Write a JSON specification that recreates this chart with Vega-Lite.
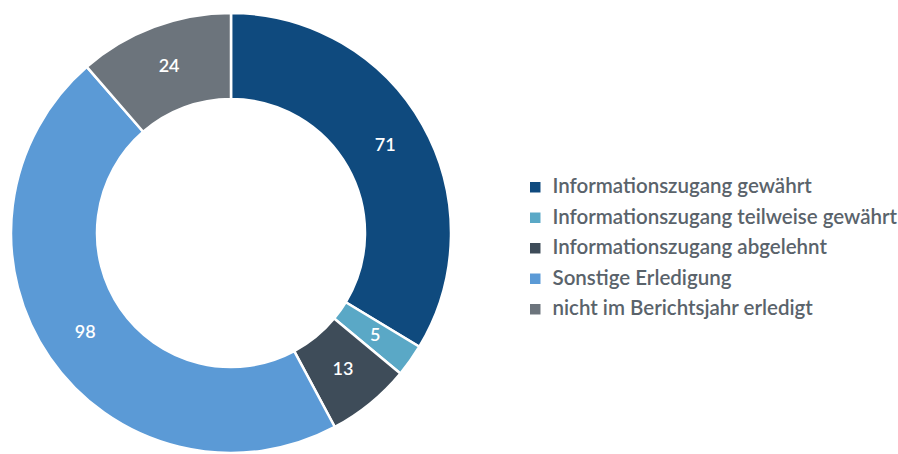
{
  "$schema": "https://vega.github.io/schema/vega-lite/v6.json",
  "width": 462,
  "height": 446,
  "padding": {"left": 0, "top": 8, "right": 0, "bottom": 0},
  "autosize": {"type": "pad"},
  "background": "white",
  "config": {"view": {"stroke": null}},
  "data": {
    "values": [
      {"kategorie": "Informationszugang gewährt", "anzahl": 71, "reihe": 1},
      {"kategorie": "Informationszugang teilweise gewährt", "anzahl": 5, "reihe": 2},
      {"kategorie": "Informationszugang abgelehnt", "anzahl": 13, "reihe": 3},
      {"kategorie": "Sonstige Erledigung", "anzahl": 98, "reihe": 4},
      {"kategorie": "nicht im Berichtsjahr erledigt", "anzahl": 24, "reihe": 5}
    ]
  },
  "encoding": {
    "theta": {"field": "anzahl", "type": "quantitative", "stack": true},
    "order": {"field": "reihe", "type": "quantitative"}
  },
  "layer": [
    {
      "mark": {"type": "arc", "outerRadius": 220, "innerRadius": 134, "stroke": "white", "strokeWidth": 2.5},
      "encoding": {
        "color": {
          "field": "kategorie",
          "type": "nominal",
          "scale": {
            "domain": ["Informationszugang gewährt", "Informationszugang teilweise gewährt", "Informationszugang abgelehnt", "Sonstige Erledigung", "nicht im Berichtsjahr erledigt"],
            "range": ["#0f4a7e", "#5aa8c6", "#3e4c59", "#5b9ad6", "#6c747c"]
          },
          "legend": {
            "title": null,
            "orient": "none",
            "legendX": 525,
            "legendY": 167,
            "symbolType": "square",
            "symbolSize": 110,
            "symbolStrokeWidth": 0,
            "labelFont": "Lato",
            "labelFontSize": 20.5,
            "labelColor": "#5a636b",
            "labelFontWeight": 600,
            "rowPadding": 9.5,
            "labelOffset": 7,
            "labelLimit": 500
          }
        }
      }
    },
    {
      "mark": {"type": "text", "radius": 177, "color": "white", "font": "Lato", "fontSize": 18, "fontWeight": 600},
      "encoding": {
        "text": {"field": "anzahl", "type": "quantitative"}
      }
    }
  ]
}
